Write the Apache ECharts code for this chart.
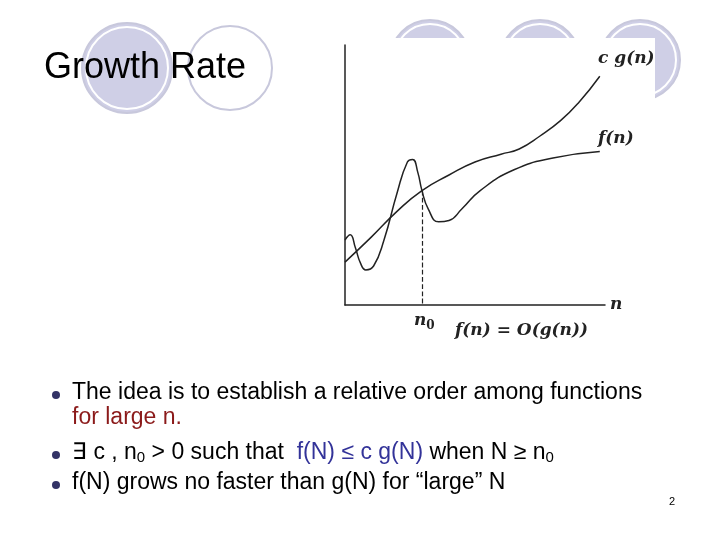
<!DOCTYPE html><html><head><meta charset="utf-8">
<script src="https://cdn.jsdelivr.net/npm/echarts@6/dist/echarts.min.js"></script>
<style>html,body{margin:0;padding:0;background:#fff}#c{width:720px;height:540px}</style></head><body><div id="c"></div><script>
const cgData = [[0,16.5],[10,26],[20,36],[29.6,44],[40,50],[50,55],[60,58],[67,60],[75,65],[83,71],[90,78],[98,88]];
const fData = [[0,25],[2,27],[4,22],[6,16],[8,13.5],[11,15],[15,25],[20,43],[24,55],[26,56],[28,51],[29.6,44],[32,37],[36,32],[40,32.5],[45,37],[52,44],[65,52],[80,56.5],[98,59]];
const n0 = 29.6;
const bullets = [
 ['The idea is to establish a relative order among functions', 394],
 ['{r|for large n.}', 419],
 ['∃ c , n{s|0} > 0 such that  {b|f(N) ≤ c g(N)} when N ≥ n{s|0}', 454],
 ['f(N) grows no faster than g(N) for “large” N', 484]
];
const ch = echarts.init(document.getElementById('c'));
const F = 'Liberation Sans, Arial, sans-serif';
const g = [];
[[127,68,45,'#cfcfe6'],[230,68,42,'#ffffff'],[430,60,40,'#cfcfe6'],[540,60,40,'#cfcfe6'],[640,60,40,'#cfcfe6']].forEach(c=>{
 g.push({type:'circle',shape:{cx:c[0],cy:c[1],r:c[2]},style:{fill:c[3],stroke:'#c8c8dc',lineWidth:2},z:0});
 g.push({type:'circle',shape:{cx:c[0],cy:c[1],r:c[2]-4},style:{fill:'none',stroke:'#fff',lineWidth:2},z:0});
});
g.push({type:'rect',shape:{x:332,y:38,width:323,height:314},style:{fill:'#fff'},z:1});
g.push({type:'text',x:44,y:50,style:{text:'Growth Rate',font:'36px '+F,fill:'#000'},z:2});
bullets.forEach((b,i)=>{
 if(i!==1) g.push({type:'circle',shape:{cx:56,cy:b[1]+1,r:4},style:{fill:'#333366'},z:2});
 g.push({type:'text',x:72,y:b[1]-13,style:{text:b[0],font:'23px '+F,fill:'#000',rich:{r:{fill:'#8b1a1a',font:'23px '+F},s:{font:'15px '+F,verticalAlign:'bottom',padding:[9,0,0,0]},b:{fill:'#333399',font:'23px '+F}}},z:2});
});
g.push({type:'text',x:669,y:496,style:{text:'2',font:'11px '+F,fill:'#000'},z:2});
const SF='italic bold 17px DejaVu Serif, serif';
g.push({type:'text',x:598,y:50,style:{text:'c g(n)',font:SF,fill:'#222'},z:3});
g.push({type:'text',x:598,y:130,style:{text:'f(n)',font:SF,fill:'#222'},z:3});
g.push({type:'text',x:610,y:296,style:{text:'n',font:SF,fill:'#222'},z:3});
g.push({type:'text',x:414,y:310,style:{text:'n{s|0}',font:SF,fill:'#222',rich:{s:{font:'bold 12px DejaVu Serif, serif',padding:[10,0,0,0]}}},z:3});
g.push({type:'text',x:455,y:322,style:{text:'f(n) = O(g(n))',font:SF,fill:'#222'},z:3});
ch.setOption({
 animation:false,
 graphic:g,
 grid:{left:345,top:45,width:260,height:260},
 xAxis:{type:'value',min:0,max:100,z:20,axisLine:{show:true,lineStyle:{color:'#222',width:1.5}},axisTick:{show:false},axisLabel:{show:false},splitLine:{show:false}},
 yAxis:{type:'value',min:0,max:100,z:20,axisLine:{show:true,lineStyle:{color:'#222',width:1.5}},axisTick:{show:false},axisLabel:{show:false},splitLine:{show:false}},
 series:[
  {type:'line',data:cgData,smooth:true,showSymbol:false,lineStyle:{color:'#222',width:1.5},z:20},
  {type:'line',data:fData,smooth:true,showSymbol:false,lineStyle:{color:'#222',width:1.5},z:20,
   markLine:{silent:true,symbol:'none',label:{show:false},lineStyle:{type:'dashed',color:'#222',width:1.2},data:[[{coord:[n0,44]},{coord:[n0,0]}]]}}
 ]
});
</script></body></html>
